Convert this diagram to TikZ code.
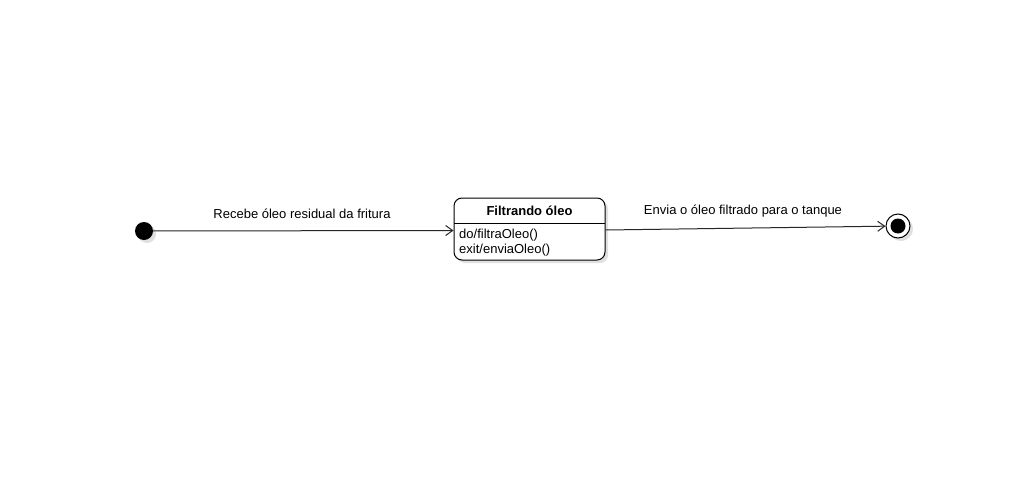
\documentclass[tikz,border=0pt]{standalone}
\usepackage{fontspec}
\setmainfont{Liberation Sans}
\usetikzlibrary{arrows.meta,shadows,positioning}
\begin{document}
\begin{tikzpicture}[x=1pt, y=-1pt, font=\fontsize{13}{15}\selectfont,
    sombra/.style={drop shadow={shadow xshift=3pt, shadow yshift=-3pt, fill=black!12, opacity=1}},
    trans/.style={draw=black!85, line width=1pt, -{Straight Barb[length=7pt,width=10pt]}},
    rotulo/.style={inner sep=0pt}]
    \useasboundingbox[fill=white] (0,0) rectangle (1015,498);
    % Estado inicial
    \node[circle, fill=black, minimum size=18pt, inner sep=0pt, sombra] (inicio) at (144,231) {};
    % Estado
    \node[draw, rounded corners=8pt, minimum width=151pt, minimum height=62pt, fill=white, line width=1pt, sombra] (filtrando) at (529.5,229) {};
    \draw[line width=1pt] (454,223) -- (605,223);
    \node[rotulo, font=\fontsize{13}{15}\selectfont\bfseries] (titulo) at (529.5,211) {Filtrando óleo};
    \node[rotulo, anchor=west] (acaodo) at (459,235.5) {do/filtraOleo()};
    \node[rotulo, anchor=west] (acaoexit) at (459,250.5) {exit/enviaOleo()};
    % Estado final
    \node[circle, draw, fill=white, minimum size=24pt, inner sep=0pt, line width=1pt, sombra] (fim) at (898,226) {};
    \node[circle, fill=black, minimum size=15pt, inner sep=0pt] (fimint) at (fim) {};
    % Transicoes
    \draw[trans] (inicio) -- ([yshift=-1.5pt]filtrando.west);
    \draw[trans] ([yshift=-1pt]filtrando.east) -- (fim);
    \node[rotulo] (rot1) at (302,214) {Recebe óleo residual da fritura};
    \node[rotulo] (rot2) at (743,211) {Envia o óleo filtrado para o tanque};
\end{tikzpicture}
\end{document}
